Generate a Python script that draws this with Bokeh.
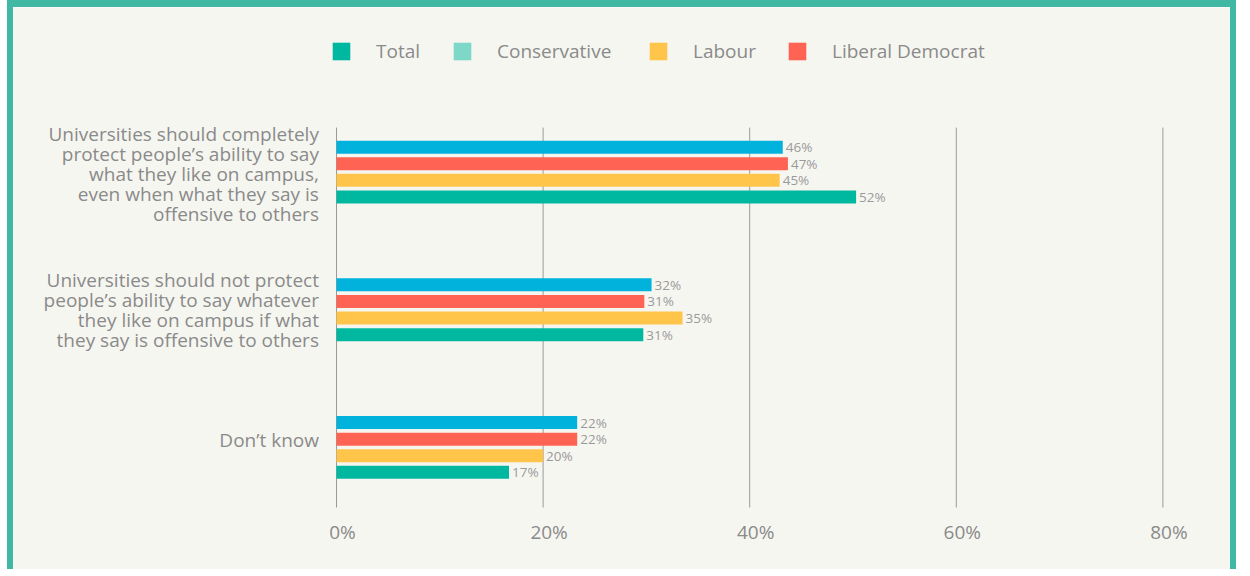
from bokeh.plotting import figure
from bokeh.models import Range1d, Legend, LegendItem, Label
from bokeh.core.properties import value
from bokeh.embed import file_html
from bokeh.resources import INLINE

# ---------------- data ----------------
categories = [
    "Universities should completely\nprotect people’s ability to say\nwhat they like on campus,\neven when what they say is\noffensive to others",
    "Universities should not protect\npeople’s ability to say whatever\nthey like on campus if what\nthey say is offensive to others",
    "Don’t know",
]
# bar lengths as drawn (percent)
conservative = [43.2, 30.5, 23.3]
lib_dem = [43.7, 29.8, 23.3]
labour = [42.9, 33.5, 20.0]
total = [50.3, 29.7, 16.7]
# printed value labels
conservative_labels = ["46%", "32%", "22%"]
lib_dem_labels = ["47%", "31%", "22%"]
labour_labels = ["45%", "35%", "20%"]
total_labels = ["52%", "31%", "17%"]

legend_names = ["Total", "Conservative", "Labour", "Liberal Democrat"]
legend_colors = ["#00b8a0", "#7dd8c8", "#ffc54b", "#ff6354"]

x_ticks = [0, 20, 40, 60, 80]
x_tick_labels = ["0%", "20%", "40%", "60%", "80%"]

# ---------------- styling ----------------
BG = "#f6f6f1"
FRAME = "#41b8a4"
TXT = "#8a8a8a"
FONT = "Open Sans"

PX_PER_PCT = 10.33
PX_PER_CAT = 137.7
CANVAS_W, CANVAS_H = 1229, 569
ZERO_PX = 323
x_start = -ZERO_PX / PX_PER_PCT
x_end = (CANVAS_W - ZERO_PX) / PX_PER_PCT
y_top_grid, y_bottom_grid = -0.323, 2.436
y_bottom = y_bottom_grid + 69 / PX_PER_CAT
y_top = y_bottom - CANVAS_H / PX_PER_CAT

p = figure(
    width=CANVAS_W, height=CANVAS_H,
    x_range=Range1d(x_start, x_end), y_range=Range1d(y_bottom, y_top),
    output_backend="svg", toolbar_location=None,
    background_fill_color=BG, border_fill_color=BG,
    min_border=0, outline_line_color=None,
)
p.styles = {
    "margin": "0px 0px 0px 7px",
    "border-top": f"7px solid {FRAME}",
    "border-left": f"6px solid {FRAME}",
    "border-right": f"6px solid {FRAME}",
}
p.axis.visible = False
p.grid.visible = False

# grid lines (only across the bar area)
p.segment(x0=x_ticks, x1=x_ticks, y0=y_top_grid, y1=y_bottom_grid,
          line_color="#9a9a9a", line_width=1)
# tick labels
p.text(x=x_ticks, y=[y_bottom_grid] * len(x_ticks), text=x_tick_labels,
       x_offset=6, y_offset=24, text_align="center", text_baseline="middle",
       text_font=value(FONT), text_font_size="19px", text_color=TXT)

pitch = 0.1206
bh = 0.0944
series = [
    (conservative, conservative_labels, "#00b2dc", -1.5),
    (lib_dem, lib_dem_labels, "#ff6354", -0.5),
    (labour, labour_labels, "#ffc54b", 0.5),
    (total, total_labels, "#00b8a0", 1.5),
]
for vals, labs, col, k in series:
    ys = [i + k * pitch for i in range(len(categories))]
    p.hbar(y=ys, left=0, right=vals, height=bh, fill_color=col, line_color=None)
    p.text(x=vals, y=ys, text=labs, x_offset=3, text_baseline="middle",
           text_font=value(FONT), text_font_size="13.5px", text_color="#9a9a9a")

label_y_offsets = [-2, 0, 7]
for i, (c, off) in enumerate(zip(categories, label_y_offsets)):
    p.add_layout(Label(x=-1.7, y=i, text=c, text_align="right", text_baseline="middle",
                       y_offset=off, text_font=FONT, text_font_size="19px",
                       text_line_height=0.767, text_color=TXT))

# legend (one per entry, placed individually)
leg_x = [317, 438, 634, 773]
for name, col, lx in zip(legend_names, legend_colors, leg_x):
    r = p.rect(x=[-1000], y=[-1000], width=1, height=1, fill_color=col, line_color=None)
    lg = Legend(items=[LegendItem(label=name, renderers=[r])], location=(lx, 512),
                orientation="horizontal", padding=0, margin=0, spacing=0,
                border_line_color=None, background_fill_alpha=0,
                glyph_width=22, glyph_height=22, label_standoff=24, label_height=18,
                label_text_font=FONT, label_text_font_size="19px", label_text_color=TXT)
    p.add_layout(lg)

open("out.html", "w").write(file_html(p, INLINE))
